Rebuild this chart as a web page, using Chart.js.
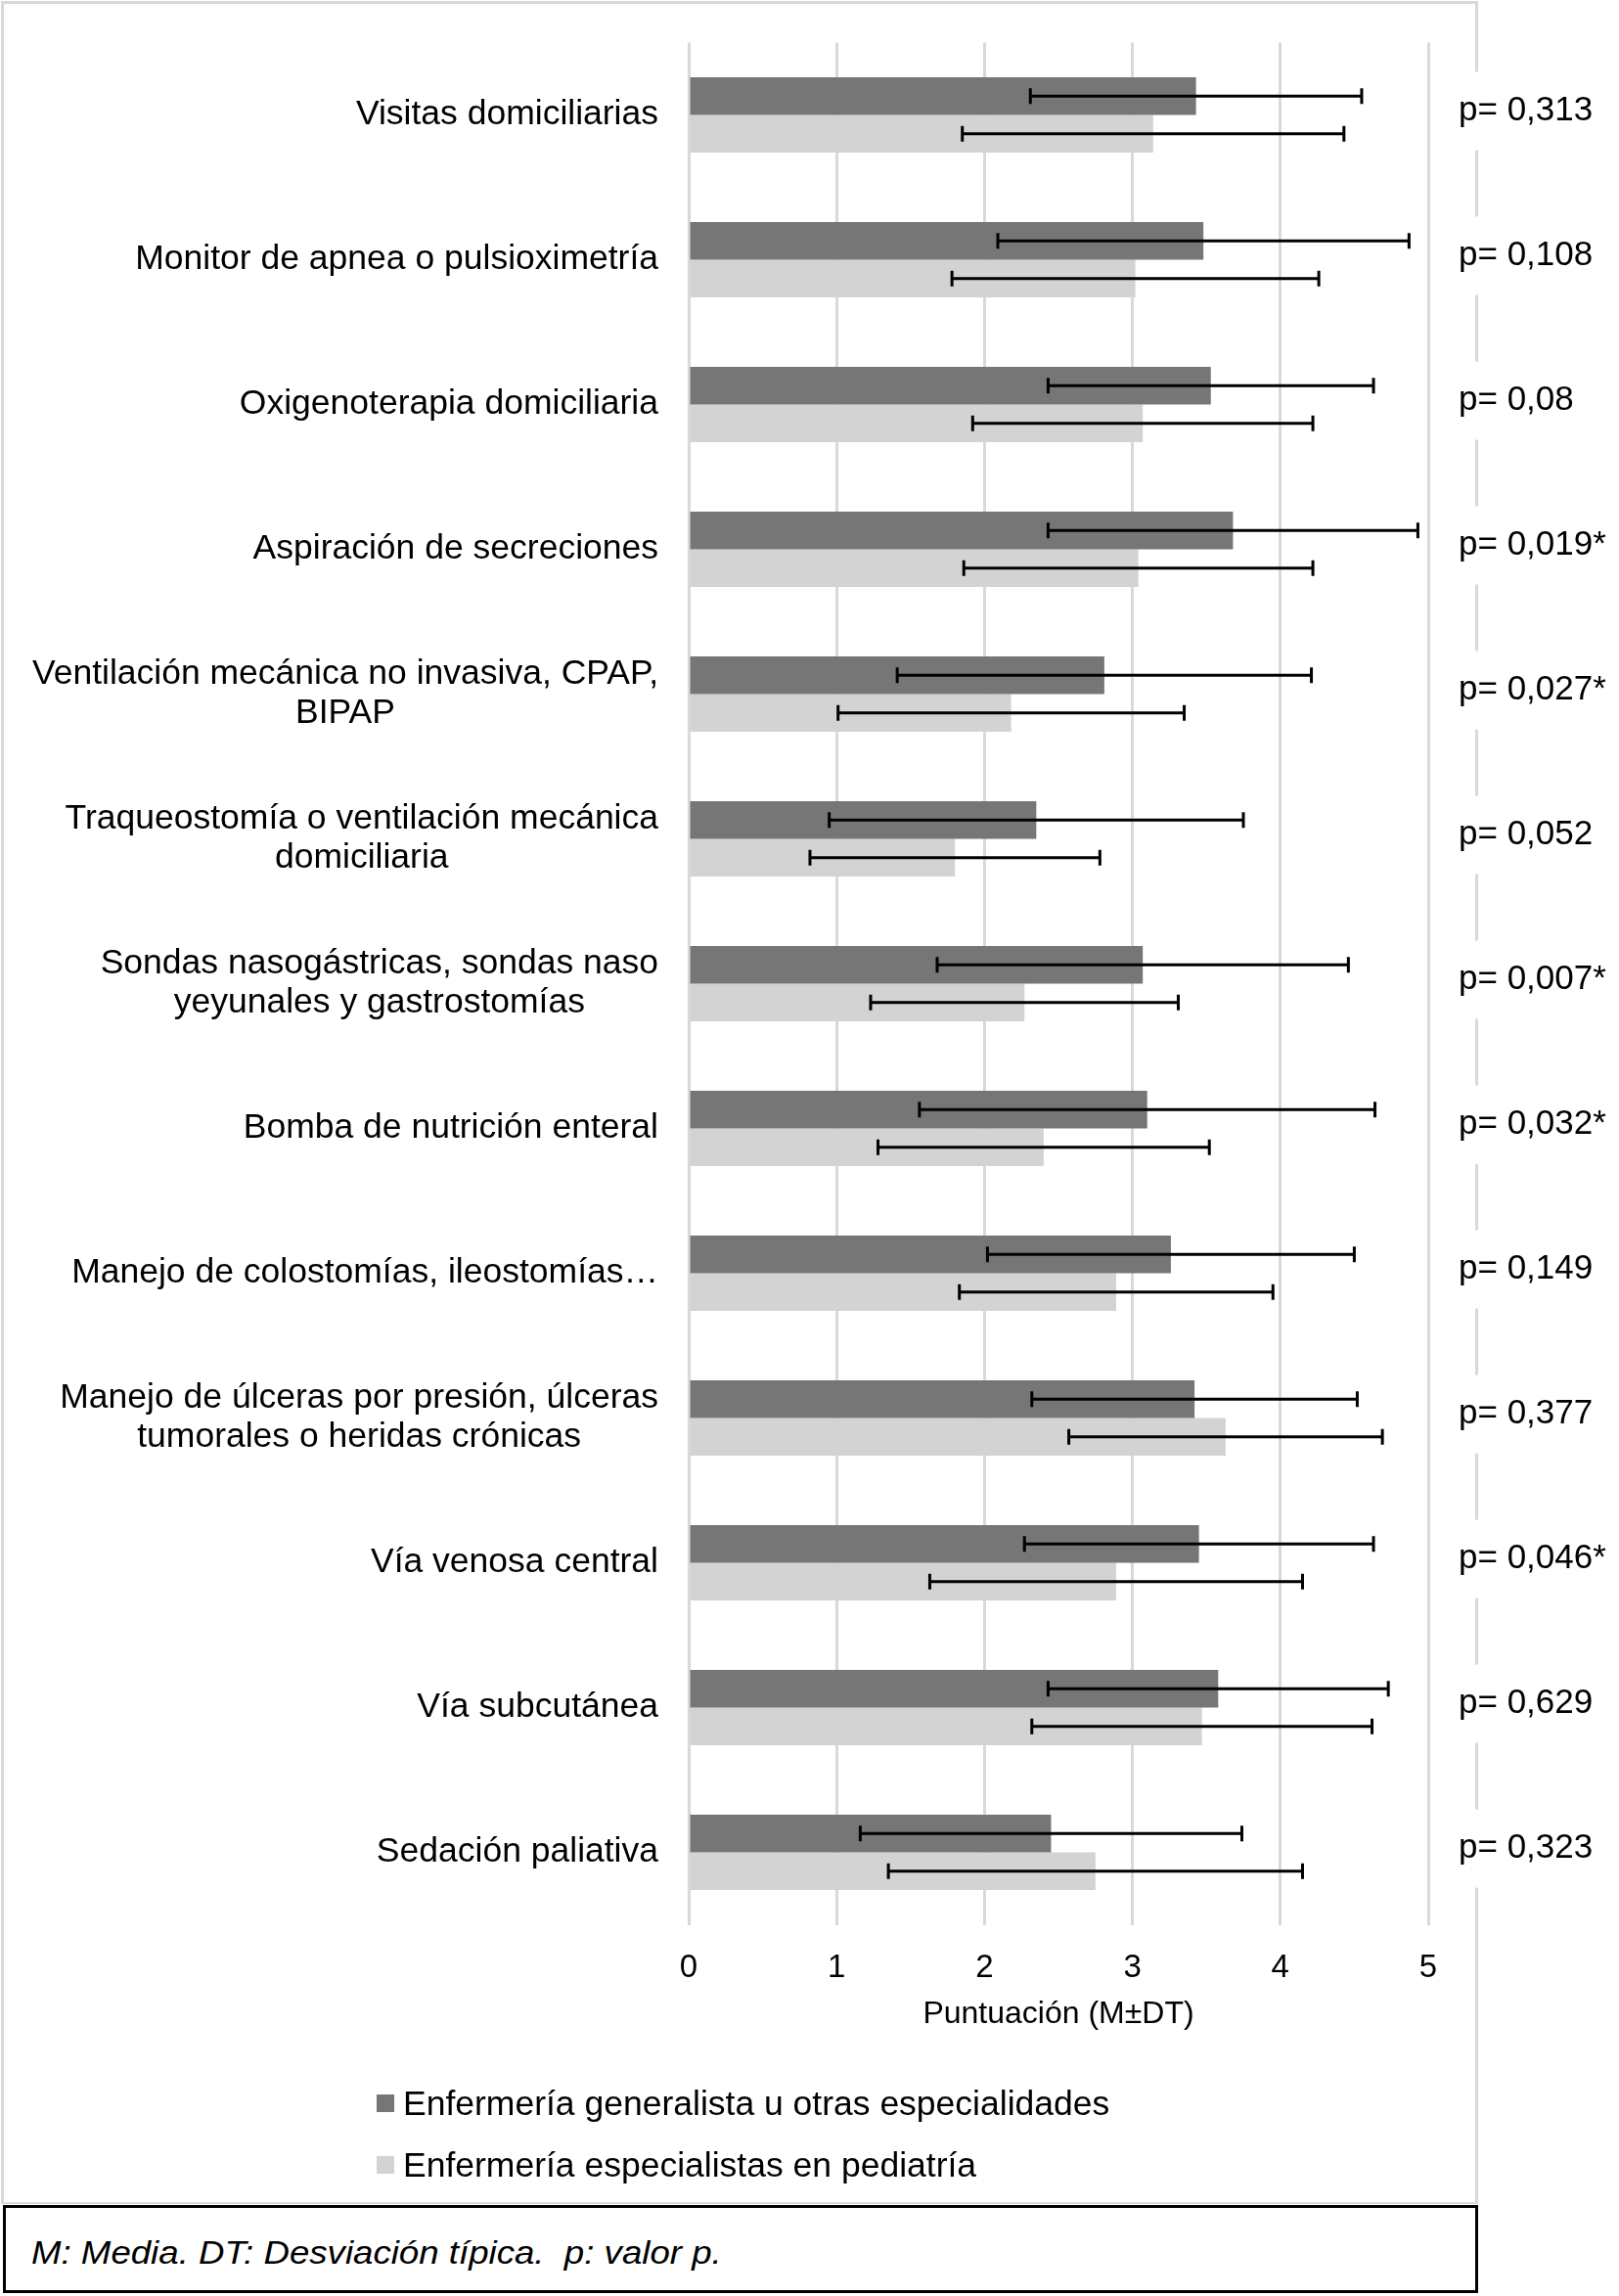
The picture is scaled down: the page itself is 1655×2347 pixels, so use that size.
<!DOCTYPE html>
<html>
<head>
<meta charset="utf-8">
<script src="https://cdn.jsdelivr.net/npm/chart.js@4"></script>
<style>
  body { margin: 0; background: #fff; font-family: "Liberation Sans", Arial, sans-serif; }
  #wrap { position: relative; width: 1655px; height: 2347px; }
  #box { position: absolute; left: 0; top: 0; width: 1655px; height: 2253px; }
  #legend { position: absolute; left: 385px; top: 2126px; }
  .item { display: flex; align-items: center; height: 48px; margin-bottom: 15px; font-size: 35.5px; color: #000; }
  .sw { width: 18px; height: 18px; margin-right: 9px; }
  #note { position: absolute; left: 3px; top: 2254px; width: 1508px; height: 90px; box-sizing: border-box;
          border: 3px solid #000; padding: 8px 0 0 26px; display: flex; align-items: center; }
  #note span { font-style: italic; font-size: 33px; color: #000; white-space: pre;
               display: inline-block; transform: scaleX(1.11); transform-origin: left center; }
</style>
</head>
<body>
<div id="wrap">
  <div id="box"><canvas id="chart"></canvas></div>
  <div id="legend"></div>
  <div id="note"><span>M: Media. DT: Desviación típica.  p: valor p.</span></div>
</div>
<script>
// categories (one entry per row, inner arrays are the wrapped lines)
const categories = [
  ['Visitas domiciliarias'],
  ['Monitor de apnea o pulsioximetría'],
  ['Oxigenoterapia domiciliaria'],
  ['Aspiración de secreciones'],
  ['Ventilación mecánica no invasiva, CPAP,', 'BIPAP'],
  ['Traqueostomía o ventilación mecánica', 'domiciliaria'],
  ['Sondas nasogástricas, sondas naso', 'yeyunales y gastrostomías'],
  ['Bomba de nutrición enteral'],
  ['Manejo de colostomías, ileostomías…'],
  ['Manejo de úlceras por presión, úlceras', 'tumorales o heridas crónicas'],
  ['Vía venosa central'],
  ['Vía subcutánea'],
  ['Sedación paliativa']
];

const seriesNames = ['Enfermería generalista u otras especialidades', 'Enfermería especialistas en pediatría'];

// means and standard deviations
const generalMean = [3.43, 3.48, 3.53, 3.68, 2.81, 2.35, 3.07, 3.10, 3.26, 3.42, 3.45, 3.58, 2.45];
const generalSd   = [1.12, 1.39, 1.10, 1.25, 1.40, 1.40, 1.39, 1.54, 1.24, 1.10, 1.18, 1.15, 1.29];
const pediaMean   = [3.14, 3.02, 3.07, 3.04, 2.18, 1.80, 2.27, 2.40, 2.89, 3.63, 2.89, 3.47, 2.75];
const pediaSd     = [1.29, 1.24, 1.15, 1.18, 1.17, 0.98, 1.04, 1.12, 1.06, 1.06, 1.26, 1.15, 1.40];

const pValues = ['p= 0,313', 'p= 0,108', 'p= 0,08', 'p= 0,019*', 'p= 0,027*', 'p= 0,052', 'p= 0,007*',
                 'p= 0,032*', 'p= 0,149', 'p= 0,377', 'p= 0,046*', 'p= 0,629', 'p= 0,323'];

const xTicks = [0, 1, 2, 3, 4, 5];
const xTitle = 'Puntuación (M±DT)';

const FONT = '"Liberation Sans", Arial, sans-serif';

// white background + light grey frame
const framePlugin = {
  id: 'frame',
  beforeDraw(chart) {
    const ctx = chart.ctx;
    ctx.save();
    ctx.fillStyle = '#fff';
    ctx.fillRect(0, 0, chart.width, chart.height);
    ctx.strokeStyle = '#d9d9d9';
    ctx.lineWidth = 3;
    ctx.strokeRect(2.5, 2.5, 1507, 2250);
    ctx.restore();
  }
};

// error bars (mean ± sd)
const errorBars = {
  id: 'errorBars',
  afterDatasetsDraw(chart) {
    const ctx = chart.ctx;
    const xs = chart.scales.x;
    ctx.save();
    ctx.strokeStyle = '#000';
    ctx.lineWidth = 3;
    chart.data.datasets.forEach((ds, d) => {
      chart.getDatasetMeta(d).data.forEach((bar, i) => {
        const m = ds.data[i], s = ds.sd[i];
        const x1 = xs.getPixelForValue(m - s);
        const x2 = xs.getPixelForValue(m + s);
        const y = bar.y;
        ctx.beginPath();
        ctx.moveTo(x1, y); ctx.lineTo(x2, y);
        ctx.moveTo(x1, y - 8); ctx.lineTo(x1, y + 8);
        ctx.moveTo(x2, y - 8); ctx.lineTo(x2, y + 8);
        ctx.stroke();
      });
    });
    ctx.restore();
  }
};

// category labels (centred block, right edge near the axis) and p-values
const sideLabels = {
  id: 'sideLabels',
  afterDraw(chart) {
    const ctx = chart.ctx;
    const ys = chart.scales.y;
    ctx.save();
    ctx.fillStyle = '#000';
    ctx.textBaseline = 'middle';
    ctx.font = '35.5px ' + FONT;
    categories.forEach((lines, i) => {
      const cy = ys.getPixelForValue(i);
      const w = Math.max(...lines.map(l => ctx.measureText(l).width));
      const cx = 673 - w / 2;
      ctx.textAlign = 'center';
      lines.forEach((l, k) => {
        ctx.fillText(l, cx, cy + (k - (lines.length - 1) / 2) * 40);
      });
    });

    ctx.font = '35px ' + FONT;
    ctx.textAlign = 'left';
    pValues.forEach((p, i) => {
      const cy = ys.getPixelForValue(i) - 4;
      ctx.fillStyle = '#fff';
      ctx.fillRect(1482, cy - 40, 173, 80);
      ctx.fillStyle = '#000';
      ctx.fillText(p, 1491, cy);
    });
    ctx.restore();
  }
};

const ctx = document.getElementById('chart').getContext('2d');
const chart = new Chart(ctx, {
  type: 'bar',
  data: {
    labels: categories,
    datasets: [{
      label: seriesNames[0],
      data: generalMean,
      sd: generalSd,
      backgroundColor: '#767676'
    }, {
      label: seriesNames[1],
      data: pediaMean,
      sd: pediaSd,
      backgroundColor: '#d3d3d3'
    }]
  },
  options: {
    indexAxis: 'y',
    responsive: true,
    maintainAspectRatio: false,
    animation: false,
    layout: { padding: { left: 704, right: 195, top: 43.5, bottom: 174.4 } },
    datasets: { bar: { categoryPercentage: 0.52, barPercentage: 1.0, borderWidth: 0 } },
    plugins: { legend: { display: false }, tooltip: { enabled: false } },
    scales: {
      x: {
        min: 0, max: 5,
        afterBuildTicks: s => { s.ticks = xTicks.map(v => ({ value: v })); },
        grid: { color: '#d9d9d9', lineWidth: 3, drawTicks: false },
        border: { display: false },
        ticks: { color: '#000', padding: 25, font: { family: FONT, size: 33 } },
        title: { display: true, text: xTitle, color: '#000', padding: { top: -17, bottom: 0 },
                 font: { family: FONT, size: 32 } }
      },
      y: { display: false }
    }
  },
  plugins: [framePlugin, errorBars, sideLabels]
});

// legend built from the datasets
const legend = document.getElementById('legend');
chart.data.datasets.forEach(ds => {
  const item = document.createElement('div');
  item.className = 'item';
  const sw = document.createElement('span');
  sw.className = 'sw';
  sw.style.background = ds.backgroundColor;
  const txt = document.createElement('span');
  txt.textContent = ds.label;
  item.appendChild(sw);
  item.appendChild(txt);
  legend.appendChild(item);
});
</script>
</body>
</html>
